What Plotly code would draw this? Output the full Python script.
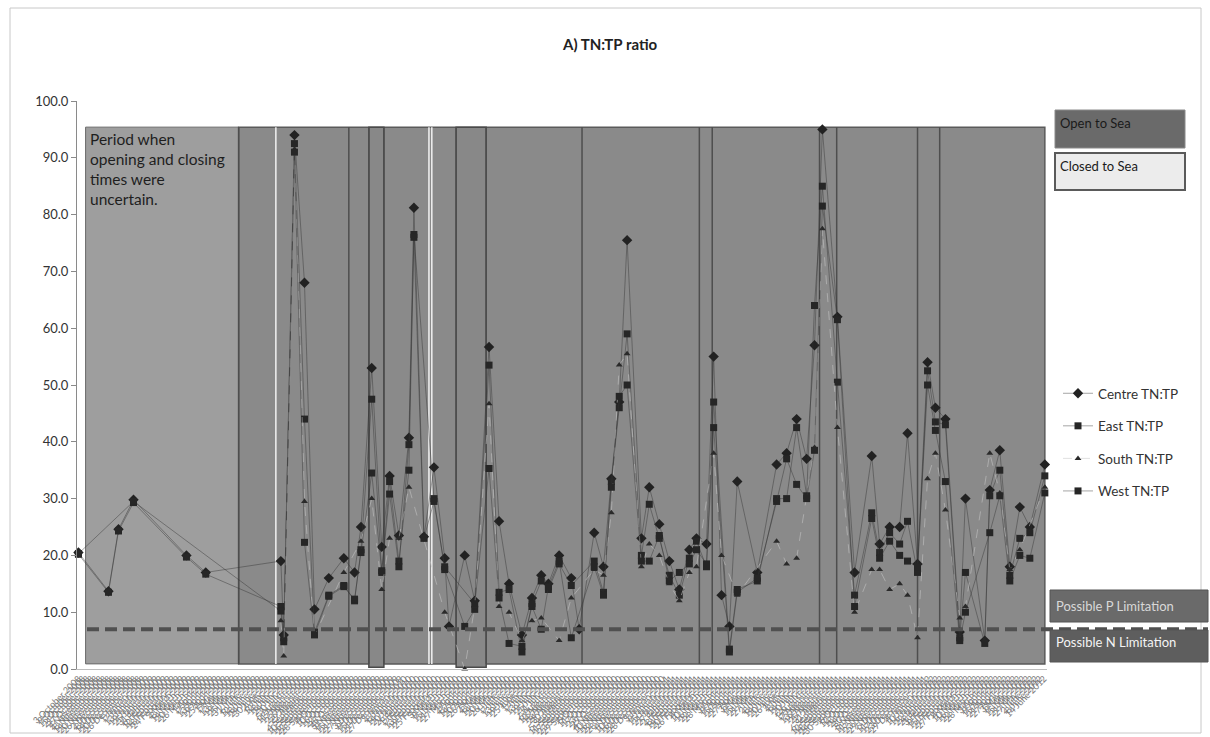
import pandas as pd
import plotly.graph_objects as go

# ---------------- data ----------------
start_date = "2008-10-03"
# days since first sample for each sampling occasion
sample_day = [0, 42, 56, 77, 151, 178, 283, 287, 302, 316, 330, 350, 371, 386, 395, 410, 424,
              435, 448, 462, 469, 483, 497, 512, 518, 540, 554, 574, 588, 602, 620, 634, 647,
              657, 672, 689, 700, 721, 734, 745, 756, 767, 787, 798, 812, 826, 840, 854, 864,
              878, 888, 899, 910, 921, 949, 976, 990, 1004, 1018, 1029, 1040, 1061, 1085, 1109,
              1120, 1134, 1148, 1159, 1173, 1187, 1198, 1212, 1232, 1240, 1267, 1274, 1288,
              1302, 1316, 1330, 1351]

centre = [20.5, 13.7, 24.6, 29.8, 20.0, 17.0, 19.0, 6.0, 94.0, 68.0, 10.5, 16.0, 19.5, 17.0,
          25.0, 53.0, 21.5, 34.0, 23.5, 40.7, 81.2, 23.3, 35.5, 19.5, 7.5, 20.0, 12.0, 56.7,
          26.0, 15.0, 6.0, 12.5, 16.5, 15.0, 20.0, 16.0, 7.0, 24.0, 18.0, 33.5, 47.0, 75.5,
          23.0, 32.0, 25.5, 19.0, 14.0, 21.0, 23.0, 22.0, 55.0, 13.0, 7.5, 33.0, 17.0, 36.0,
          38.0, 44.0, 37.0, 57.0, 95.0, 62.0, 17.0, 37.5, 22.0, 25.0, 25.0, 41.5, 18.5, 54.0,
          46.0, 44.0, 6.5, 30.0, 5.0, 31.5, 38.5, 18.0, 28.5, 25.0, 36.0]
east = [20.2, 13.5, 24.3, 29.3, 19.7, 16.7, 11.0, 5.5, 92.5, 44.0, 6.5, 13.0, 14.7, 12.0,
        21.0, 47.5, 17.0, 33.0, 19.0, 35.0, 76.5, None, 30.0, 17.5, None, 7.5, 10.5, 53.5,
        13.5, 14.0, 3.0, 11.5, 15.5, 14.0, 18.5, 14.7, None, 19.0, 13.5, 33.0, 46.0, 59.0,
        20.0, 29.0, 23.0, 16.5, 13.0, 19.5, 22.5, 18.0, 47.0, None, 3.5, 14.0, 15.5, 30.0,
        30.0, 42.5, 30.5, 64.0, 85.0, 50.5, 13.0, 27.5, 20.5, 24.0, 22.0, 26.0, 17.0, 52.5,
        43.5, 43.0, 5.5, 17.0, 4.5, 30.5, 35.0, 16.5, 23.0, 24.0, 34.0]
south = [None, None, None, None, None, None, 8.5, 2.3, 91.5, 29.5, 5.8, None, 17.0, None,
         22.5, 30.0, 14.0, 23.0, 23.0, 32.0, None, None, None, 10.0, None, 0.0, 11.0, 46.7,
         11.0, 10.0, 5.0, 8.5, 9.0, None, 5.0, 12.5, None, 17.5, 16.5, 27.5, 53.5, 55.5,
         18.0, 22.0, 20.0, 15.0, 12.0, 17.0, 18.0, None, 38.0, 20.0, None, 13.0, None, 22.5,
         18.5, 19.5, None, 39.0, 77.5, 42.5, 10.0, 17.5, 17.5, 14.0, 15.0, 13.0, 5.5, 33.5,
         38.0, 28.0, 9.0, 11.0, None, 38.0, 31.0, 17.5, 21.0, None, 32.0]
west = [20.3, None, None, 29.5, None, None, 10.2, 4.8, 91.0, 22.3, 6.0, 12.8, 14.5, 12.3,
        20.5, 34.5, 17.3, 30.8, 18.0, 39.5, 76.0, 23.0, 29.5, 18.0, None, None, 11.5, 35.3,
        12.5, 4.5, 4.0, 11.0, 7.0, 14.5, 19.0, 5.5, None, 18.0, 13.0, 32.0, 48.0, 50.0,
        19.0, 19.0, 23.5, 15.5, 17.0, 18.5, 21.0, 18.5, 42.5, None, 3.0, 13.5, 16.0, 29.5,
        37.0, 32.5, 30.0, 38.5, 81.5, 61.5, 11.0, 26.5, 19.5, 22.5, 20.0, 19.0, 18.0, 50.0,
        42.0, 33.0, 5.0, 10.0, None, 24.0, 30.5, 15.5, 20.0, 19.5, 31.0]

series_names = ["Centre TN:TP", "East TN:TP", "South TN:TP", "West TN:TP"]

# estuary mouth status (days since first sample)
uncertain_period = [10, 224]
open_period = [224, 1351]
dark_boundaries = [224, 378, 406, 427, 528, 570, 704, 868, 886, 1036, 1060, 1173, 1204]
white_boundaries = [276, 490, 494]
narrow_boxes = [[406, 427], [528, 570]]
box_top, box_bottom, narrow_bottom = 95.4, 0.9, 0.3
limitation_ratio = 7.0

# ---------------- figure ----------------
t0 = pd.Timestamp(start_date)
def day(d):
    return t0 + pd.Timedelta(days=d)

x_dates = [day(d) for d in sample_day]

L, R, T, B = 77, 1047, 101, 669
def px(xp):
    return (xp - L) / (R - L)
def py(yp):
    return (B - yp) / (B - T)

fig = go.Figure()

styles = [
    dict(symbol="diamond", size=8, line_color="rgba(50,50,50,0.55)", dash="solid", mcolor="#222222"),
    dict(symbol="square", size=7, line_color="rgba(50,50,50,0.55)", dash="solid", mcolor="#262626"),
    dict(symbol="triangle-up", size=6, line_color="rgba(200,200,200,0.7)", dash="dash", mcolor="#2a2a2a"),
    dict(symbol="square", size=7, line_color="rgba(50,50,50,0.55)", dash="solid", mcolor="#262626"),
]
for name, vals, st in zip(series_names, [centre, east, south, west], styles):
    fig.add_trace(go.Scatter(
        x=x_dates, y=vals, name=name, mode="lines+markers", connectgaps=True,
        legendgroup=name,
        line=dict(color=st["line_color"], width=0.8, dash=st["dash"]),
        marker=dict(symbol=st["symbol"], size=st["size"], color=st["mcolor"]),
        cliponaxis=False,
    ))

shapes = []
# uncertain period box
shapes.append(dict(type="rect", xref="x", yref="y", x0=day(uncertain_period[0]), x1=day(uncertain_period[1]),
                   y0=box_bottom, y1=box_top, fillcolor="#9e9e9e", line=dict(color="#6a6a6a", width=1), layer="below"))
# open period box
shapes.append(dict(type="rect", xref="x", yref="y", x0=day(open_period[0]), x1=day(open_period[1]),
                   y0=box_bottom, y1=box_top, fillcolor="#8a8a8a", line=dict(color="#5a5a5a", width=1.5), layer="below"))
for a, b in narrow_boxes:
    shapes.append(dict(type="rect", xref="x", yref="y", x0=day(a), x1=day(b), y0=narrow_bottom, y1=box_top,
                       fillcolor="#888888", line=dict(color="#4a4a4a", width=1.5), layer="below"))
for d in dark_boundaries:
    shapes.append(dict(type="line", xref="x", yref="y", x0=day(d), x1=day(d), y0=box_bottom, y1=box_top,
                       line=dict(color="#4e4e4e", width=1.5), layer="below"))
for d in white_boundaries:
    shapes.append(dict(type="line", xref="x", yref="y", x0=day(d), x1=day(d), y0=box_bottom, y1=box_top,
                       line=dict(color="#f2f2f2", width=1.5), layer="below"))
# limitation dashed line
shapes.append(dict(type="line", xref="paper", yref="y", x0=px(87), x1=px(1208), y0=limitation_ratio, y1=limitation_ratio,
                   line=dict(color="#505050", width=4, dash="12px,6px"), layer="above"))
# outer frame
shapes.append(dict(type="rect", xref="paper", yref="paper", x0=px(10), x1=px(1201), y0=py(733), y1=py(8),
                   line=dict(color="#c8c8c8", width=1), fillcolor="rgba(0,0,0,0)", layer="below"))
# status legend boxes
shapes.append(dict(type="rect", xref="paper", yref="paper", x0=px(1055), x1=px(1185), y0=py(148), y1=py(110),
                   fillcolor="#6a6a6a", line=dict(color="#8a8a8a", width=1)))
shapes.append(dict(type="rect", xref="paper", yref="paper", x0=px(1055), x1=px(1185), y0=py(190), y1=py(153),
                   fillcolor="#ececec", line=dict(color="#5a5a5a", width=2)))
# limitation boxes
shapes.append(dict(type="rect", xref="paper", yref="paper", x0=px(1050), x1=px(1208), y0=py(622), y1=py(590),
                   fillcolor="#6a6a6a", line=dict(color="#555555", width=1)))
shapes.append(dict(type="rect", xref="paper", yref="paper", x0=px(1050), x1=px(1208), y0=py(662), y1=py(630),
                   fillcolor="#5e5e5e", line=dict(color="#555555", width=1)))

font_main = "Lato, 'Open Sans', sans-serif"
annotations = [
    dict(text="<b>A) TN:TP ratio</b>", xref="paper", yref="paper", x=px(610), y=py(44),
         xanchor="center", yanchor="middle", showarrow=False, font=dict(size=15, color="#222", family=font_main)),
    dict(text="Period when<br>opening and closing<br>times were<br>uncertain.", xref="paper", yref="paper",
         x=px(88), y=py(128), xanchor="left", yanchor="top", align="left", showarrow=False,
         font=dict(size=15.5, color="#1e1e1e", family=font_main)),
    dict(text="Open to Sea", xref="paper", yref="paper", x=px(1058), y=py(113), xanchor="left", yanchor="top",
         showarrow=False, font=dict(size=13, color="#1a1a1a", family=font_main)),
    dict(text="Closed to Sea", xref="paper", yref="paper", x=px(1058), y=py(156), xanchor="left", yanchor="top",
         showarrow=False, font=dict(size=13, color="#1a1a1a", family=font_main)),
    dict(text="Possible P Limitation", xref="paper", yref="paper", x=px(1054), y=py(606), xanchor="left",
         yanchor="middle", showarrow=False, font=dict(size=13, color="#d8d8d8", family=font_main)),
    dict(text="Possible N Limitation", xref="paper", yref="paper", x=px(1054), y=py(642), xanchor="left",
         yanchor="middle", showarrow=False, font=dict(size=13, color="#f4f4f4", family=font_main)),
]

fig.update_layout(
    width=1210, height=737,
    margin=dict(l=L, r=1210 - R, t=T, b=737 - B, pad=0, autoexpand=False),
    paper_bgcolor="white", plot_bgcolor="white",
    shapes=shapes, annotations=annotations,
    showlegend=True,
    legend=dict(x=px(1058), y=py(378), xanchor="left", yanchor="top", tracegroupgap=12,
                font=dict(size=13.5, color="#333", family=font_main), bgcolor="rgba(0,0,0,0)", itemwidth=30),
    font=dict(family=font_main, color="#333"),
)
fig.update_yaxes(range=[0, 100], dtick=10, tickformat=".1f", showgrid=False, zeroline=False, automargin=False,
                 showline=True, linecolor="#8a8a8a", linewidth=1, ticks="outside", ticklen=5, tickcolor="#8a8a8a",
                 tickfont=dict(size=13, color="#333", family=font_main))
fig.update_xaxes(type="date", range=[day(-2), day(1354)], showgrid=False, zeroline=False, automargin=False,
                 showline=True, linecolor="#bdbdbd", ticks="", tick0=day(0), dtick=6 * 86400000,
                 tickformat="%-d %B %Y", tickangle=-45, tickfont=dict(size=9, color="#777777", family=font_main))

fig.write_html("out.html")
